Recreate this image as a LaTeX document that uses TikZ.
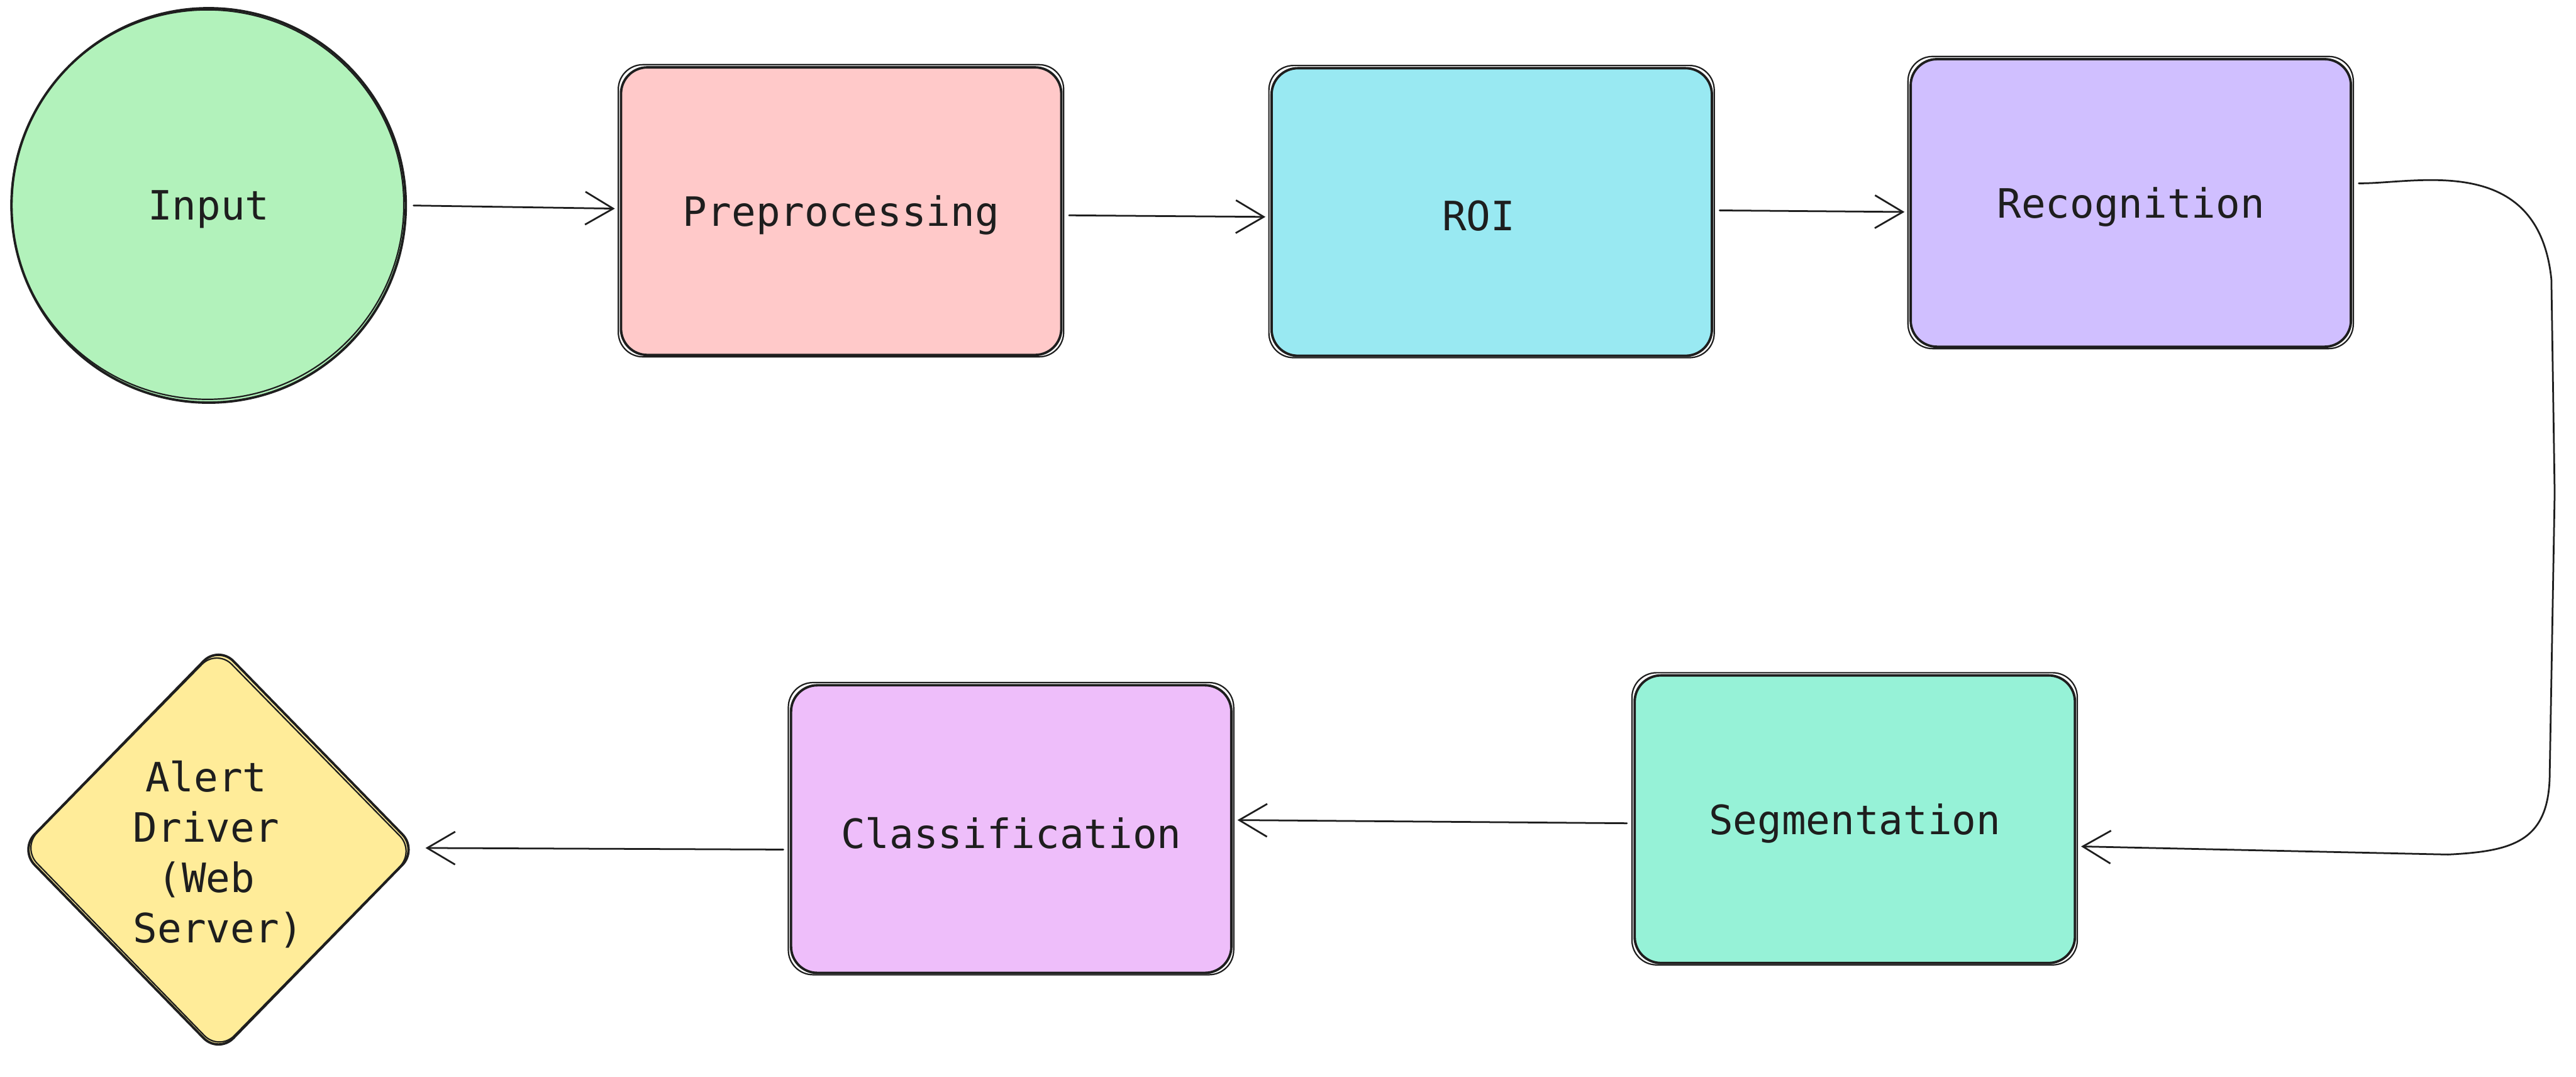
\documentclass[tikz,border=0pt]{standalone}
\usepackage{fontspec}
\newfontfamily\codefont{DejaVu Sans Mono}
\usetikzlibrary{arrows.meta,shapes.geometric}
\definecolor{ink}{HTML}{1E1E1E}
\definecolor{cgreen}{HTML}{B2F2BB}
\definecolor{cpink}{HTML}{FFC9C9}
\definecolor{ccyan}{HTML}{99E9F2}
\definecolor{cviolet}{HTML}{D0BFFF}
\definecolor{cteal}{HTML}{96F2D7}
\definecolor{cgrape}{HTML}{EEBEFA}
\definecolor{cyellow}{HTML}{FFEC99}
\tikzset{
  x=1mm, y=-1mm,
  lbl/.style={font=\codefont\fontsize{70}{87}\selectfont, text=ink, align=center},
  procbox/.style={lbl, draw=ink, line width=4.2pt, rounded corners=16mm,
    minimum width=268mm, minimum height=175mm, inner sep=0pt},
  roundnode/.style={lbl, draw=ink, line width=4.2pt, circle, fill=cgreen,
    minimum size=240mm, inner sep=0pt},
  sketch/.style={draw=ink, line width=2.4pt},
  flow/.style={draw=ink, line width=3pt, line cap=round,
    -{Straight Barb[length=17mm, width=20mm, line width=3pt]},
    shorten <=4mm, shorten >=3mm},
}
\newcommand{\sketchrect}[1]{%
  \draw[sketch, rounded corners=15mm]
    ([shift={(-0.9,0.4)}]#1.south west) rectangle ([shift={(0.7,-0.9)}]#1.north east);}
\newcommand{\lowtext}[1]{\raisebox{-2.5mm}[\height][\depth]{#1}}
\begin{document}
\begin{tikzpicture}
\useasboundingbox (0,0) rectangle (1568,655);
\fill[white] (0,0) rectangle (1568,655);

\node[roundnode] (inp) at (127,125) {\lowtext{Input}};
\draw[sketch] (126.3,124.5) ellipse [x radius=119.5mm, y radius=118.5mm];
\node[procbox, fill=cpink] (pre) at (512,128.5) {\lowtext{Preprocessing}};
\node[procbox, fill=ccyan] (roi) at (908,129) {\lowtext{ROI\hspace*{16mm}}};
\node[procbox, fill=cviolet] (rec) at (1297,123.5) {\lowtext{Recognition}};
\node[procbox, fill=cteal] (seg) at (1129,498.5) {\lowtext{Segmentation}};
\node[procbox, fill=cgrape] (cls) at (615.5,504.5) {\lowtext{Classification}};
\sketchrect{pre}
\sketchrect{roi}
\sketchrect{rec}
\sketchrect{seg}
\sketchrect{cls}

% diamond
\draw[ink, line width=4.2pt, fill=cyellow, rounded corners=13mm]
  (133,393) -- (254,517) -- (133,641) -- (12,517) -- cycle;
\draw[sketch, rounded corners=13mm]
  (132,395) -- (252.5,518) -- (133.5,639.5) -- (13.5,516) -- cycle;
\node[lbl, inner sep=0pt] (alert) at (125.5,520) {Alert\\Driver\\(Web\\\hphantom{x}Server)};
\coordinate (alertE) at (256,516);

\draw[flow] (inp.east) -- (pre.west |- 0,127);
\draw[flow] (pre.east |- 0,131) -- (roi.west |- 0,132);
\draw[flow] (roi.east |- 0,128) -- (rec.west |- 0,129);
\coordinate (recout) at ([yshift=12mm]rec.east);
\coordinate (segin) at ([yshift=-16.5mm]seg.east);
\draw[flow] (recout) .. controls (1470,112) and (1545,92) .. (1553,170)
  -- (1555,300) -- (1552,470) .. controls (1552,512) and (1530,518) .. (1490,520)
  -- (segin);
\draw[flow] (seg.west |- 0,501) -- (cls.east |- 0,499);
\draw[flow] (cls.west |- 0,517) -- (alertE);
\end{tikzpicture}
\end{document}
